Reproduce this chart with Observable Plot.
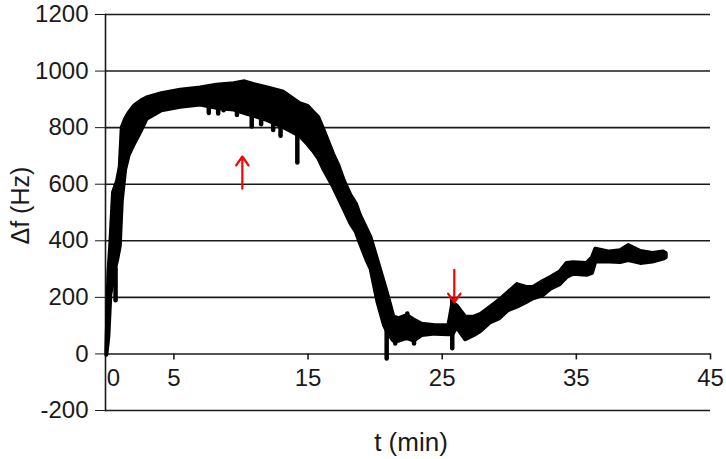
<!DOCTYPE html>
<html>
<head>
<meta charset="utf-8">
<script src="https://cdn.jsdelivr.net/npm/d3@7"></script>
<script src="https://cdn.jsdelivr.net/npm/@observablehq/plot@0.6"></script>
<style>
  html, body { margin: 0; padding: 0; background: #fff; }
</style>
</head>
<body>
<script>
// ---- data ----
const xLabel = "t (min)";
const yLabel = "Δf (Hz)";
const yTicks = [-200, 0, 200, 400, 600, 800, 1000, 1200];
const xTicks = [0, 5, 15, 25, 35, 45];

// time (min) and the lower / upper envelope of the noisy trace (Hz)
const tArr  = [0, 0.15, 0.3, 0.5, 0.65, 0.8, 1.0, 1.15, 1.4, 1.65, 2.1, 2.6, 3.0, 4.1, 5.5, 7.0, 8.2, 9.5, 10.3, 11.0, 12.0, 13.2, 14.4, 15.0, 15.4, 15.8, 16.2, 16.9, 17.3, 17.7, 18.2, 18.6, 18.9, 19.4, 19.7, 20.2, 20.7, 21.0, 21.4, 21.8, 22.4, 22.9, 23.5, 24.5, 25.5, 25.8, 26.1, 26.75, 27.4, 27.9, 28.6, 29.3, 29.9, 30.6, 31.3, 31.8, 32.5, 33.1, 33.8, 34.3, 34.8, 35.8, 36.2, 36.45, 37.5, 38.3, 38.9, 39.8, 40.7, 41.5, 41.7];
const loArr = [-5, 60, 210, 260, 300, 330, 380, 540, 650, 700, 745, 790, 830, 860, 872, 880, 868, 862, 850, 840, 825, 800, 770, 740, 717, 690, 650, 590, 550, 510, 460, 430, 390, 330, 300, 185, 100, 70, 45, 45, 55, 45, 65, 70, 68, 68, 93, 50, 65, 80, 110, 125, 152, 165, 182, 195, 205, 229, 245, 270, 282, 278, 285, 325, 325, 323, 330, 320, 325, 335, 340];
const hiArr = [10, 280, 390, 570, 590, 610, 660, 800, 830, 850, 878, 895, 905, 920, 932, 940, 950, 955, 962, 952, 940, 925, 885, 875, 855, 835, 790, 706, 665, 612, 560, 530, 490, 440, 410, 330, 250, 200, 130, 125, 135, 120, 105, 100, 100, 180, 170, 130, 130, 140, 165, 190, 215, 245, 235, 235, 255, 270, 290, 320, 322, 320, 340, 370, 360, 365, 383, 362, 355, 360, 355];

// short spikes in the trace
const spikeT    = [0.65, 7.6, 8.3, 8.7, 9.7, 10.8, 11.5, 12.4, 12.95, 14.2, 20.86, 21.5, 22.4, 22.9, 25.75, 25.75];
const spikeFrom = [300, 880, 875, 880, 880, 860, 850, 835, 830, 790, 120, 70, 110, 70, 90, 90];
const spikeTo   = [188, 850, 848, 860, 843, 802, 810, 790, 770, 675, -18, 35, 141, 35, 18, 190];

// red arrows
const arrowT    = [10.1, 25.9];
const arrowFrom = [584, 297];
const arrowTo   = [698, 182];

const trace = tArr.map((t, i) => ({t, lo: loArr[i], hi: hiArr[i]}));
const spikes = spikeT.map((t, i) => ({t, a: spikeFrom[i], b: spikeTo[i]}));
const arrows = arrowT.map((t, i) => ({t, a: arrowFrom[i], b: arrowTo[i]}));
const xTickRows = xTicks.filter(d => d !== 0);

const ink = "#1a1a1a";

const chart = Plot.plot({
  width: 726,
  height: 459,
  marginLeft: 105,
  marginRight: 16,
  marginTop: 14,
  marginBottom: 49,
  style: {fontFamily: "'Liberation Sans', Arial, sans-serif", fontSize: "24px", color: ink, background: "#fff"},
  x: {domain: [-0.1, 45], axis: null},
  y: {domain: [-200, 1200], ticks: yTicks, tickSize: 10, tickPadding: 7, tickFormat: d => String(d), label: null},
  marks: [
    Plot.ruleY(yTicks, {stroke: ink, strokeWidth: 1.6}),
    Plot.frame({anchor: "left", stroke: ink, strokeWidth: 1.6}),
    Plot.ruleX(xTickRows, {x: d => d, y1: () => 0, y2: () => 0, insetBottom: -6, stroke: ink, strokeWidth: 1.6}),
    Plot.text(xTickRows, {x: d => d, y: () => 0, text: d => String(d), dy: 24, fontSize: 24}),
    Plot.text([0], {x: d => d, y: () => 0, text: d => String(d), dy: 24, textAnchor: "start", fontSize: 24}),
    Plot.areaY(trace, {x: "t", y1: "lo", y2: "hi", fill: "#000", stroke: "#000", strokeWidth: 4, strokeLinejoin: "round", curve: "linear"}),
    Plot.ruleX(spikes, {x: "t", y1: "a", y2: "b", stroke: "#000", strokeWidth: 4.5, strokeLinecap: "round"}),
    Plot.arrow(arrows, {x1: "t", x2: "t", y1: "a", y2: "b", stroke: "#ff0000", strokeWidth: 2.2, headLength: 12, headAngle: 70}),
    Plot.text([yLabel], {frameAnchor: "left", text: d => d, rotate: -90, dx: -85, dy: 32, fontSize: 25}),
    Plot.text([xLabel], {frameAnchor: "bottom", text: d => d, dx: 3, dy: 40, fontSize: 26})
  ]
});
document.body.append(chart);
</script>
</body>
</html>
